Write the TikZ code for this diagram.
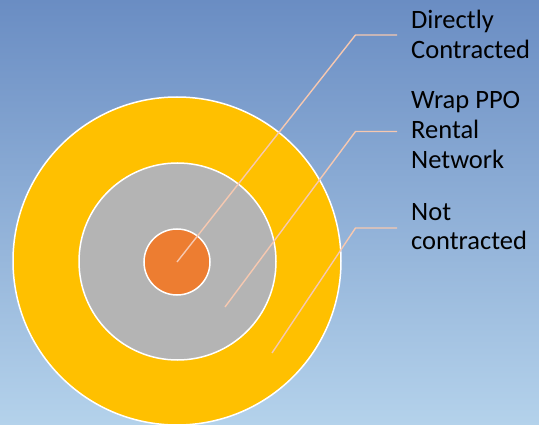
\documentclass[tikz,border=0pt]{standalone}
\usepackage{fontspec}
\setmainfont{Carlito}
\definecolor{bgtop}{RGB}{106,141,195}
\definecolor{bgbot}{RGB}{180,210,235}
\definecolor{ringY}{RGB}{255,192,0}
\definecolor{ringG}{RGB}{180,180,180}
\definecolor{ringO}{RGB}{237,125,49}
\definecolor{leadC}{RGB}{246,200,176}
\tikzset{
  ring/.style={circle, draw=white, line width=1.5pt, inner sep=0pt, outer sep=0pt},
  leader/.style={draw=leadC, line width=1.4pt},
  lbl/.style={anchor=base west, align=left, inner sep=0pt, text=black,
    font=\fontsize{26.5}{29.8}\selectfont}
}
\begin{document}
\begin{tikzpicture}[x=1pt,y=-1pt]
\shade[top color=bgtop, bottom color=bgbot] (0,0) rectangle (539,425);
\useasboundingbox (0,0) rectangle (539,425);
\begin{scope}
\clip (0,0) rectangle (539,425);
\node[ring, fill=ringY, minimum size=328pt] (outer) at (177,261) {};
\node[ring, fill=ringG, minimum size=197pt] (mid) at (177.5,261.5) {};
\node[ring, fill=ringO, minimum size=66pt] (inner) at (177,262) {};
\end{scope}
\coordinate (s2) at (225,307);
\coordinate (s3) at (272,353);
\coordinate (e1) at (355.5,35);
\coordinate (t1) at (397,35);
\coordinate (e2) at (355.5,131.5);
\coordinate (t2) at (397,131.5);
\coordinate (e3) at (355.5,228);
\coordinate (t3) at (397,228);
\draw[leader] (inner.center) -- (e1) -- (t1);
\draw[leader] (s2) -- (e2) -- (t2);
\draw[leader] (s3) -- (e3) -- (t3);
\node[lbl] (l1) at (411,58.5) {Directly\\Contracted};
\node[lbl] (l2) at (411,168.5) {Wrap PPO\\Rental\\Network};
\node[lbl] (l3) at (411,250) {Not\\contracted};
\end{tikzpicture}
\end{document}
